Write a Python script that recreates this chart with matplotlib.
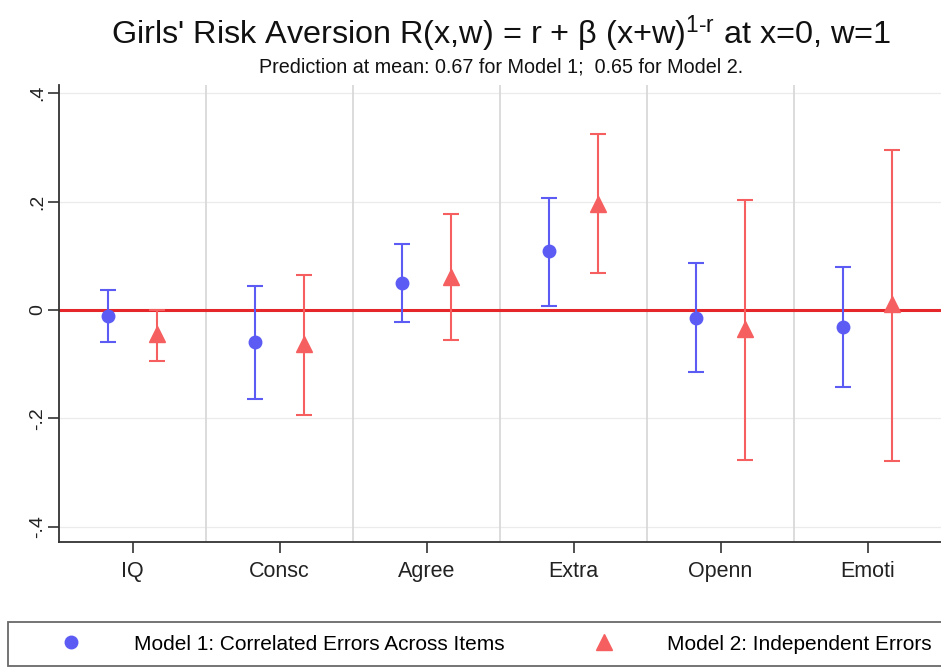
import matplotlib.pyplot as plt
from matplotlib.lines import Line2D

plt.rcParams["font.family"] = ["Liberation Sans", "DejaVu Sans"]
plt.rcParams["mathtext.fontset"] = "custom"
plt.rcParams["mathtext.rm"] = "Liberation Sans"
plt.rcParams["mathtext.it"] = "Liberation Sans"

categories = ["IQ", "Consc", "Agree", "Extra", "Openn", "Emoti"]

model1_est = [-0.011, -0.060, 0.049, 0.108, -0.014, -0.032]
model1_lo = [-0.059, -0.165, -0.023, 0.007, -0.115, -0.143]
model1_hi = [0.036, 0.045, 0.122, 0.207, 0.086, 0.080]

model2_est = [-0.044, -0.063, 0.061, 0.196, -0.035, 0.011]
model2_lo = [-0.094, -0.193, -0.055, 0.068, -0.277, -0.279]
model2_hi = [0.000, 0.064, 0.177, 0.325, 0.203, 0.295]

yticks = [-0.4, -0.2, 0, 0.2, 0.4]
ytick_labels = ["-.4", "-.2", "0", ".2", ".4"]

BLUE = "#5c5cf5"
RED = "#f65f5f"
ZERO_RED = "#e5262b"

fig = plt.figure(figsize=(9.41, 6.68), dpi=100)
ax = fig.add_axes([0.0627, 0.1886, 0.9373, 0.6842])

x = list(range(1, len(categories) + 1))
offset = 0.165
x1 = [v - offset for v in x]
x2 = [v + offset for v in x]

err1 = [[e - l for e, l in zip(model1_est, model1_lo)],
        [h - e for e, h in zip(model1_est, model1_hi)]]
err2 = [[e - l for e, l in zip(model2_est, model2_lo)],
        [h - e for e, h in zip(model2_est, model2_hi)]]

# grid and category separators
for yv in [-0.4, -0.2, 0.2, 0.4]:
    ax.axhline(yv, color="#ebebeb", linewidth=0.9, zorder=0)
for xv in [1.5, 2.5, 3.5, 4.5, 5.5]:
    ax.axvline(xv, color="#d6d6d6", linewidth=1.2, zorder=0)
ax.axhline(0, color=ZERO_RED, linewidth=2.2, zorder=1)

ax.errorbar(x1, model1_est, yerr=err1, fmt="o", color=BLUE, ecolor=BLUE,
            markersize=9, elinewidth=1.5, capsize=6, capthick=1.5, zorder=3)
ax.errorbar(x2, model2_est, yerr=err2, fmt="^", color=RED, ecolor=RED,
            markersize=11, elinewidth=1.5, capsize=6, capthick=1.5, zorder=3)

ax.set_xlim(0.5, 6.5)
ax.set_ylim(-0.428, 0.415)
ax.set_xticks(x)
ax.set_xticklabels(categories, fontsize=15.5, color="#222222")
ax.set_yticks(yticks)
ax.set_yticklabels(ytick_labels, fontsize=14, rotation=90, va="center",
                   color="#222222")
ax.tick_params(axis="x", length=8, width=1.2, color="#333333", pad=6)
ax.tick_params(axis="y", length=8, width=1.2, color="#333333", pad=1)
ax.spines["top"].set_visible(False)
ax.spines["right"].set_visible(False)
for s in ["left", "bottom"]:
    ax.spines[s].set_color("#333333")
    ax.spines[s].set_linewidth(1.3)

fig.text(0.532, 0.934,
         r"Girls' Risk Aversion R(x,w) = r + β (x+w)$^{1\text{-}r}$ at x=0, w=1",
         ha="center", va="baseline", fontsize=23.3, color="#111111")
fig.text(0.532, 0.892,
         "Prediction at mean: 0.67 for Model 1;  0.65 for Model 2.",
         ha="center", va="baseline", fontsize=14.2, color="#111111")

handles = [
    Line2D([], [], linestyle="none", marker="o", color=BLUE, markersize=9),
    Line2D([], [], linestyle="none", marker="^", color=RED, markersize=11),
]
leg = fig.legend(handles,
                 ["Model 1: Correlated Errors Across Items",
                  "Model 2: Independent Errors"],
                 loc="upper left", bbox_to_anchor=(8 / 941, 1 - 622 / 668),
                 ncol=2, fontsize=15, frameon=True, fancybox=False,
                 handlelength=4.85, handletextpad=0.6, borderpad=0.6,
                 columnspacing=2.33, borderaxespad=0)
leg.get_frame().set_edgecolor("#444444")
leg.get_frame().set_linewidth(1.3)

fig.savefig("out.png", dpi=100)
